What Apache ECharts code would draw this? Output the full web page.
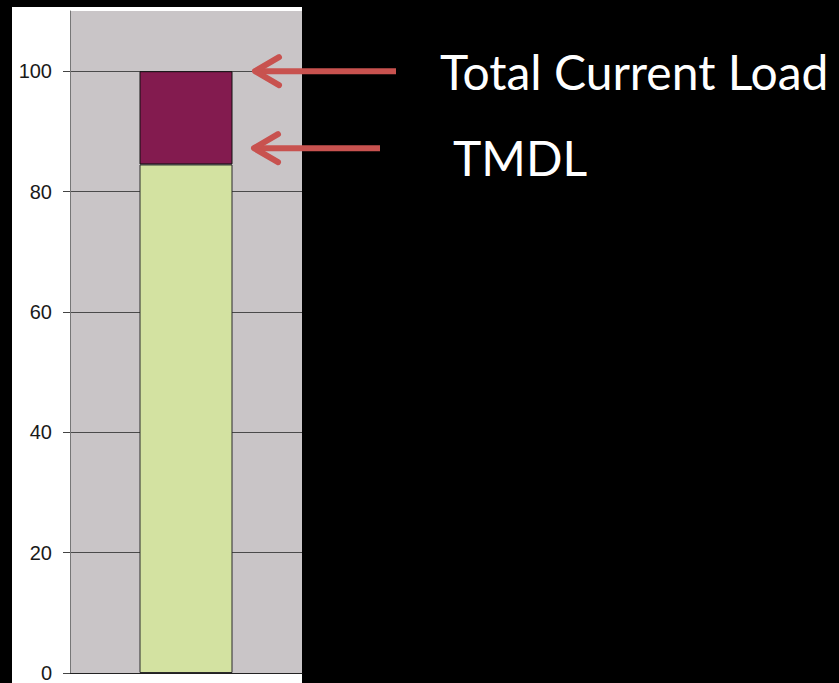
<!DOCTYPE html>
<html>
<head>
<meta charset="utf-8">
<script src="https://cdn.jsdelivr.net/npm/echarts@6/dist/echarts.min.js"></script>
<style>
html,body{margin:0;padding:0;background:#000;}
#wrap{position:relative;width:839px;height:683px;background:#000;overflow:hidden;}
#panel{position:absolute;left:12px;top:7px;width:290px;height:676px;background:#fff;}
#chart{position:absolute;left:0;top:0;width:839px;height:683px;}
</style>
</head>
<body>
<div id="wrap"><div id="panel"></div><div id="chart"></div></div>
<script>
// ---- data ----
var categories = [''];
var tmdlValues = [84.5];          // TMDL (green)
var excessValues = [15.5];        // above TMDL up to total current load (maroon)
var totalValues = [100];          // total current load
var tmdlArrowValue = [87.2];      // where the TMDL arrow points
var annotationLabels = ['Total Current Load', 'TMDL'];
var yMin = 0, yMax = 110, yInterval = 20;

var chart = echarts.init(document.getElementById('chart'), null, {renderer: 'svg'});

var option = {
  backgroundColor: 'transparent',
  animation: false,
  grid: {
    left: 70, top: 11, right: 537, bottom: 10,
    show: true, backgroundColor: '#c9c5c7', borderWidth: 0
  },
  xAxis: {
    type: 'category',
    data: categories,
    axisLine: {show: true, lineStyle: {color: '#222', width: 1}},
    axisTick: {show: false},
    axisLabel: {show: false}
  },
  yAxis: {
    type: 'value',
    min: yMin, max: yMax, interval: yInterval,
    axisLine: {show: true, lineStyle: {color: '#777', width: 1}},
    axisTick: {show: true, length: 7, lineStyle: {color: '#444'}},
    axisLabel: {
      showMaxLabel: false,
      fontFamily: 'Liberation Sans',
      fontSize: 20, color: '#1a1a1a', margin: 18
    },
    splitLine: {show: true, lineStyle: {color: ['#4a4a4a','#4a4a4a','#4a4a4a','#4a4a4a','#4a4a4a','#4a4a4a','#c9c5c7'], width: 1}}
  },
  series: [
    {
      name: annotationLabels[1],
      type: 'bar', stack: 'load',
      data: tmdlValues,
      barWidth: 93,
      itemStyle: {color: '#d3e2a1', borderColor: '#2a2a2a', borderWidth: 1}
    },
    {
      name: 'Excess',
      type: 'bar', stack: 'load',
      data: excessValues,
      barWidth: 93,
      itemStyle: {color: '#831b4f', borderColor: '#111', borderWidth: 1}
    }
  ]
};
chart.setOption(option);

function arrow(yVal, xTail, xTip, label, textX, textY) {
  var y = chart.convertToPixel({yAxisIndex: 0}, yVal);
  var col = '#c8524f';
  return [
    {type: 'line', z: 100, silent: true,
     shape: {x1: xTip + 2, y1: y, x2: xTail, y2: y},
     style: {stroke: col, lineWidth: 6}},
    {type: 'polyline', z: 100, silent: true,
     shape: {points: [[xTip + 24, y - 14], [xTip, y], [xTip + 24, y + 14]]},
     style: {stroke: col, lineWidth: 6, lineCap: 'round', lineJoin: 'round', fill: null}},
    {type: 'text', z: 100, silent: true,
     x: textX, y: textY,
     style: {text: label, fill: '#ffffff', font: '48px Lato, "Open Sans", sans-serif',
             textAlign: 'left', textVerticalAlign: 'middle'}}
  ];
}

var els = [];
els = els.concat(arrow(totalValues[0], 396, 255, annotationLabels[0], 440, 71));
els = els.concat(arrow(tmdlArrowValue[0], 380, 254, annotationLabels[1], 453, 157));
chart.setOption({graphic: {elements: els}});
</script>
</body>
</html>
